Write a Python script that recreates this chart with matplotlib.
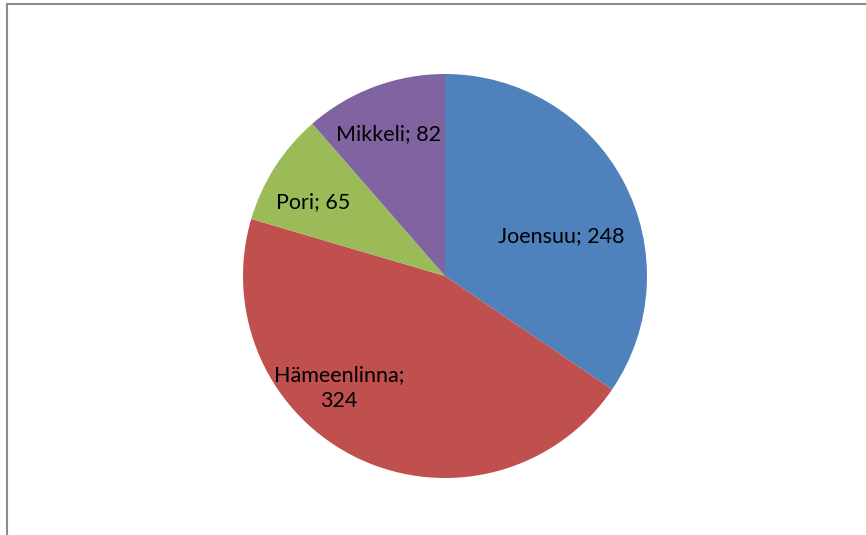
import matplotlib.pyplot as plt
from matplotlib.lines import Line2D

plt.rcParams['font.family'] = ['Lato', 'DejaVu Sans']

# data
cities = ['Joensuu', 'Hämeenlinna', 'Pori', 'Mikkeli']
counts = [248, 324, 65, 82]
colors = ['#4F81BD', '#C0504D', '#9BBB59', '#8064A2']
label_texts = ['Joensuu; 248', 'Hämeenlinna;\n324', 'Pori; 65', 'Mikkeli; 82']
label_pos = [(0.574, 0.198), (-0.525, -0.554), (-0.653, 0.366), (-0.282, 0.703)]

W, H = 866, 535
fig = plt.figure(figsize=(W / 100, H / 100), dpi=100)

# pie area: centre (445, 276), radius 202 px
cx, cy, r = 445, 276, 202
ax = fig.add_axes([(cx - r) / W, (H - cy - r) / H, 2 * r / W, 2 * r / H])
wedges, texts = ax.pie(counts, colors=colors, startangle=90, counterclock=False,
                       labels=label_texts, radius=1.0,
                       wedgeprops=dict(linewidth=0))
for t, (x, y) in zip(texts, label_pos):
    t.set_position((x, y))
    t.set_ha('center')
    t.set_va('center')
    t.set_fontsize(15.5)
    t.set_color('black')
    t.set_linespacing(1.35)
ax.set_xlim(-1, 1)
ax.set_ylim(-1, 1)
ax.set_aspect('equal')
ax.axis('off')

# chart border (only top and left visible)
border = '#8C8C8C'
fig.add_artist(Line2D([7.5 / W, 7.5 / W], [0, 1 - 3.5 / H], transform=fig.transFigure,
                      color=border, linewidth=1.5))
fig.add_artist(Line2D([7.5 / W, 1], [1 - 3.5 / H, 1 - 3.5 / H], transform=fig.transFigure,
                      color=border, linewidth=1.5))

fig.savefig('out.png', dpi=100)
